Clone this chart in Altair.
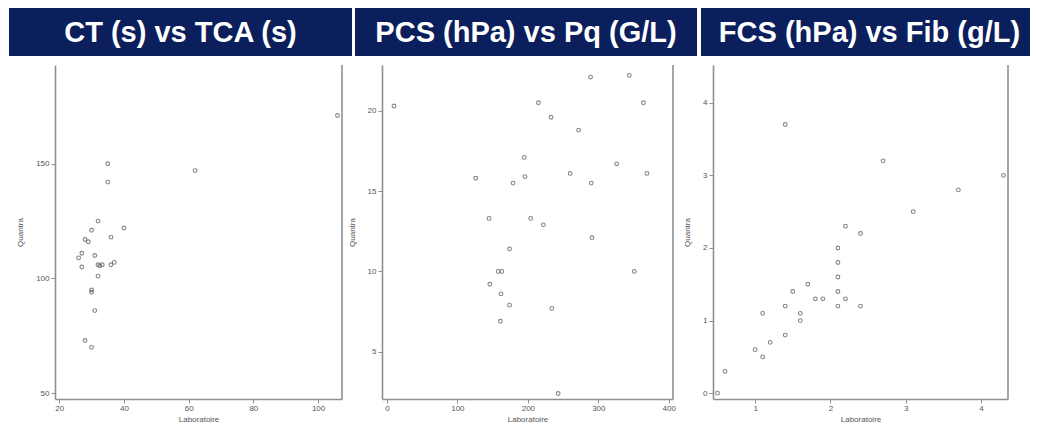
import altair as alt
import pandas as pd

# ---- data ----
ct_x = [106, 35, 35, 62, 32, 40, 30, 36, 28, 29, 27, 31, 26, 27, 32, 32.5, 33.3, 36, 37, 32, 30, 30, 31, 28, 30]
ct_y = [171, 150, 142, 147, 125, 122, 121, 118, 117, 116, 111, 110, 109, 105, 106, 105.5, 106, 106, 107, 101, 95, 94, 86, 73, 70]

pcs_x = [10, 289, 344, 215, 364, 233, 272, 195, 326, 260, 369, 196, 126, 179, 290, 145, 204, 222, 291, 174,
         158, 163, 351, 146, 162, 174, 234, 161, 243]
pcs_y = [20.3, 22.1, 22.2, 20.5, 20.5, 19.6, 18.8, 17.1, 16.7, 16.1, 16.1, 15.9, 15.8, 15.5, 15.5, 13.3, 13.3, 12.9, 12.1, 11.4,
         10, 10, 10, 9.2, 8.6, 7.9, 7.7, 6.9, 2.4]

fcs_x = [1.4, 2.7, 4.3, 3.7, 3.1, 2.2, 2.4, 2.1, 2.1, 2.1, 1.7, 1.5, 2.1, 1.8, 1.9, 2.2, 1.4, 2.1, 2.4, 1.1, 1.6, 1.6,
         1.4, 1.2, 1.0, 1.1, 0.6, 0.5]
fcs_y = [3.7, 3.2, 3.0, 2.8, 2.5, 2.3, 2.2, 2.0, 1.8, 1.6, 1.5, 1.4, 1.4, 1.3, 1.3, 1.3, 1.2, 1.2, 1.2, 1.1, 1.1, 1.0,
         0.8, 0.7, 0.6, 0.5, 0.3, 0.0]

titles = ["CT (s) vs TCA (s)", "PCS (hPa) vs Pq (G/L)", "FCS (hPa) vs Fib (g/L)"]
x_title = "Laboratoire"
y_title = "Quantra"

ct_xticks = [20, 40, 60, 80, 100]
ct_yticks = [50, 100, 150]
pcs_xticks = [0, 100, 200, 300, 400]
pcs_yticks = [5, 10, 15, 20]
fcs_xticks = [1, 2, 3, 4]
fcs_yticks = [0, 1, 2, 3, 4]

NAVY = "#0b1f5c"
GREY = "#8f8f8f"
H = 334


def panel(xs, ys, title, width, xdom, ydom, xticks, yticks, hx, hx2, tx):
    df = pd.DataFrame({"x": xs, "y": ys})
    one = pd.DataFrame({"t": [title]})
    pts = alt.Chart(df).mark_point(
        shape="circle", filled=False, size=14, stroke="#555555", strokeWidth=1.1
    ).encode(
        x=alt.X("x:Q", scale=alt.Scale(domain=xdom, nice=False, zero=False),
                axis=alt.Axis(values=xticks, title=x_title)),
        y=alt.Y("y:Q", scale=alt.Scale(domain=ydom, nice=False, zero=False),
                axis=alt.Axis(values=yticks, title=y_title)),
    )
    border = alt.Chart(one).mark_rule(color=GREY, strokeWidth=1.6).encode(
        x=alt.value(width), y=alt.value(0), y2=alt.value(H)
    )
    head = alt.Chart(one).mark_rect(color=NAVY, strokeWidth=0).encode(
        x=alt.value(hx), x2=alt.value(hx2), y=alt.value(-57), y2=alt.value(-9)
    )
    htext = alt.Chart(one).mark_text(
        color="white", font="Liberation Sans", fontWeight="bold", fontSize=29,
        align="center", baseline="middle"
    ).encode(x=alt.value(tx), y=alt.value(-32), text="t:N")
    return alt.layer(head, htext, pts, border).properties(width=width, height=H)


p1 = panel(ct_x, ct_y, titles[0], 287, [18.7, 107.4], [47.5, 193], ct_xticks, ct_yticks, -46, 297, 125.5)
p2 = panel(pcs_x, pcs_y, titles[1], 291, [-7, 406], [2.06, 22.85], pcs_xticks, pcs_yticks, -27, 315, 144)
p3 = panel(fcs_x, fcs_y, titles[2], 295, [0.44, 4.36], [-0.08, 4.52], fcs_xticks, fcs_yticks, -12, 317, 156.5)

chart = alt.hconcat(p1, p2, p3, spacing=40, bounds="flush").properties(
    padding={"left": 1, "top": 0, "right": 0, "bottom": 0}
).configure_view(stroke=None).configure_axis(
    grid=False,
    domainColor=GREY, domainWidth=1.6,
    tickColor=GREY, tickSize=4, tickWidth=1,
    labelColor="#555555", labelFont="Liberation Sans", labelFontSize=8,
    titleColor="#555555", titleFont="Liberation Sans", titleFontSize=8, titleFontWeight="normal",
).configure_axisX(
    labelPadding=1, titlePadding=3
).configure_axisY(
    labelPadding=2, titlePadding=11
)

chart.save("out.html", embed_options={"renderer": "svg", "actions": False})
